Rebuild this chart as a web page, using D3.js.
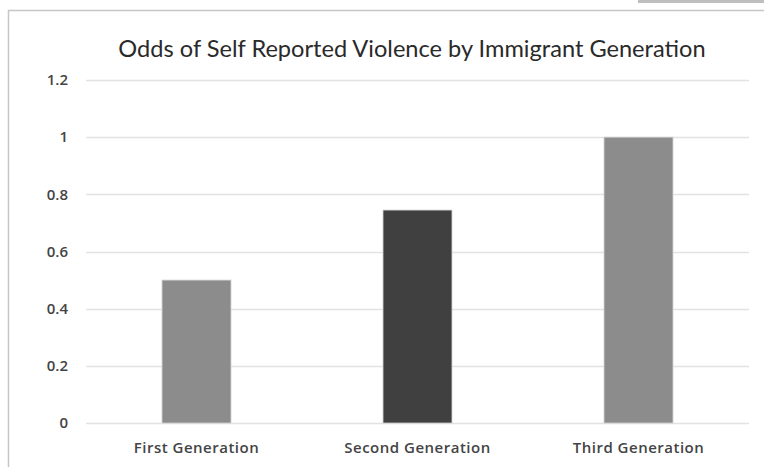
<!DOCTYPE html>
<html><head><meta charset="utf-8">
<script src="https://cdn.jsdelivr.net/npm/d3@7"></script>
<style>body{margin:0;background:#fff;} svg{display:block;}</style>
</head><body>
<svg id="c" width="764" height="467"></svg>
<script>
const categories = ["First Generation", "Second Generation", "Third Generation"];
const values = [0.5, 0.745, 1.0];
const barColors = ["#8c8c8c", "#404040", "#8c8c8c"];
const yTicks = [0, 0.2, 0.4, 0.6, 0.8, 1, 1.2];
const title = "Odds of Self Reported Violence by Immigrant Generation";

(function () {
const svg = d3.select("#c");
const font = "Lato, 'Open Sans', sans-serif";
const labelFont = "'Open Sans', Lato, sans-serif";
const W = 764, H = 467;

// decorations: outer frame and top-right tab
svg.append("rect").attr("x", 638).attr("y", 0).attr("width", 126).attr("height", 3).attr("fill", "#bfbfbf");
svg.append("path").attr("d", `M8.5,${H} V10.5 H${W}`).attr("fill", "none").attr("stroke", "#c6c6c6").attr("stroke-width", 1.5);

const pl = 86, pr = 749, pt = 80, pb = 423;
const x = d3.scaleBand().domain(categories).range([pl, pr]).paddingInner(0.688).paddingOuter(0.344);
const y = d3.scaleLinear().domain([0, 1.2]).range([pb, pt]);

// gridlines
svg.append("g").selectAll("line").data(yTicks).join("line")
  .attr("x1", pl).attr("x2", pr)
  .attr("y1", d => Math.round(y(d)) + 0.5).attr("y2", d => Math.round(y(d)) + 0.5)
  .attr("stroke", "#e2e2e2").attr("stroke-width", 1.5);

// y axis labels
const yAxis = d3.axisLeft(y).tickValues(yTicks).tickSize(0).tickPadding(0).tickFormat(d => d3.format("~g")(d));
const gy = svg.append("g").attr("transform", `translate(68,0)`).call(yAxis);
gy.select(".domain").remove();
gy.selectAll("text").attr("font-family", labelFont).attr("font-size", 15).attr("font-weight", 600).attr("fill", "#444");

// bars
svg.append("g").selectAll("rect").data(values).join("rect")
  .attr("x", (d, i) => x(categories[i]))
  .attr("y", d => y(d))
  .attr("width", x.bandwidth())
  .attr("height", d => y(0) - y(d))
  .attr("fill", (d, i) => barColors[i])
  .attr("stroke", "#d0d0d0").attr("stroke-width", 0.8);

// x axis labels
const xAxis = d3.axisBottom(x).tickSize(0).tickPadding(0);
const gx = svg.append("g").attr("transform", `translate(0,442)`).call(xAxis);
gx.select(".domain").remove();
gx.selectAll("text").attr("font-family", labelFont).attr("font-size", 15).attr("font-weight", 600)
  .attr("letter-spacing", 0.5).attr("fill", "#444").attr("dy", "0.71em");

// title
svg.append("text").attr("x", 412).attr("y", 57).attr("text-anchor", "middle")
  .attr("font-family", font).attr("font-size", 23.6).attr("fill", "#2a2a2a").text(title);
})();
</script>
</body></html>
